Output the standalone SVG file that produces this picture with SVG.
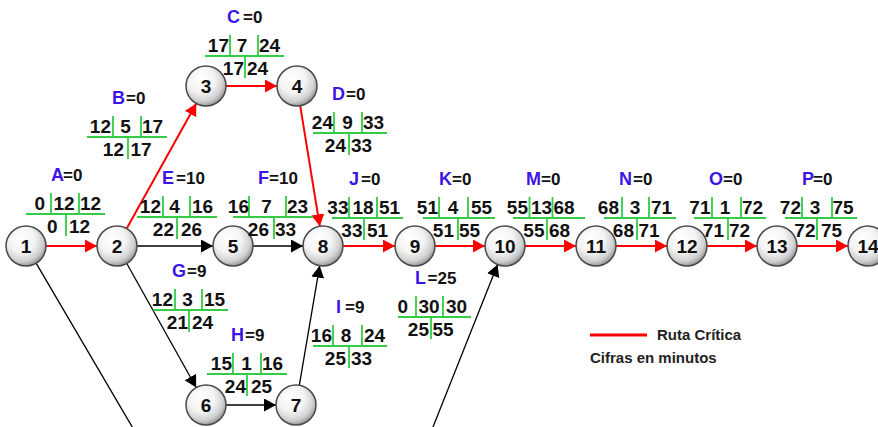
<svg xmlns="http://www.w3.org/2000/svg" width="878" height="427" viewBox="0 0 878 427">
<defs>
<radialGradient id="g" cx="0.42" cy="0.38" r="0.65" fx="0.36" fy="0.3">
<stop offset="0" stop-color="#ffffff"/>
<stop offset="0.5" stop-color="#f4f4f4"/>
<stop offset="0.8" stop-color="#d0d0d0"/>
<stop offset="1" stop-color="#8c8c8c"/>
</radialGradient>
<marker id="ar" markerUnits="userSpaceOnUse" markerWidth="13" markerHeight="14" refX="12" refY="6.5" orient="auto"><path d="M0,0L12,6.5L0,13z" fill="#ff0000"/></marker>
<marker id="ab" markerUnits="userSpaceOnUse" markerWidth="13" markerHeight="14" refX="12" refY="6.5" orient="auto"><path d="M0,0L12,6.5L0,13z" fill="#000000"/></marker>
<style>
.n circle{fill:url(#g);stroke:#4a4a4a;stroke-width:1.5}
.n text{font-family:"Liberation Sans",Arial,sans-serif;font-weight:bold;font-size:19px;text-anchor:middle;fill:#111}
.a text{font-family:"Liberation Sans",Arial,sans-serif;font-weight:bold;font-size:19px;fill:#111}
.a .e{text-anchor:end}
.a .m{text-anchor:middle}
.a .s{text-anchor:start}
.a .lb{font-size:18px;fill:#3c14e6}
.a .eq{font-size:17px}
.gl{stroke:#33cc44;stroke-width:1.8;fill:none}
.red{stroke:#ff0000;stroke-width:2;fill:none;marker-end:url(#ar)}
.blk{stroke:#000;stroke-width:1.3;fill:none;marker-end:url(#ab)}
.plain{stroke:#000;stroke-width:1.3;fill:none}
.lg{font-family:"Liberation Sans",Arial,sans-serif;font-weight:bold;font-size:15px;fill:#222}
</style>
</defs>
<rect width="878" height="427" fill="#fff"/>

<g id="connectors">
<path class="red" d="M46 246H97"/>
<path class="red" d="M126.7 228.5L196.3 103.5"/>
<path class="red" d="M226 86H277"/>
<path class="red" d="M300.2 105.7L319.8 226.3"/>
<path class="blk" d="M137 246H213"/>
<path class="blk" d="M253 246H303"/>
<path class="red" d="M343 246H395"/>
<path class="red" d="M435 246H485"/>
<path class="red" d="M525 246H576"/>
<path class="red" d="M616 246H667"/>
<path class="red" d="M707 246H757"/>
<path class="red" d="M797 246H848"/>
<path class="blk" d="M126.8 263.5L196.2 387.5"/>
<path class="blk" d="M226 405H276"/>
<path class="blk" d="M299.3 385.3L319.7 265.7"/>
<path class="plain" d="M36.1 263.2L134 430"/>
<path class="blk" d="M431 432L497.6 264.6"/>
</g>

<g id="node-1" class="n"><circle cx="26" cy="246" r="20"/><text x="26" y="253">1</text></g>
<g id="node-2" class="n"><circle cx="117" cy="246" r="20"/><text x="117" y="253">2</text></g>
<g id="node-3" class="n"><circle cx="206" cy="86" r="20"/><text x="206" y="93">3</text></g>
<g id="node-4" class="n"><circle cx="297" cy="86" r="20"/><text x="297" y="93">4</text></g>
<g id="node-5" class="n"><circle cx="233" cy="246" r="20"/><text x="233" y="253">5</text></g>
<g id="node-6" class="n"><circle cx="206" cy="405" r="20"/><text x="206" y="412">6</text></g>
<g id="node-7" class="n"><circle cx="296" cy="405" r="20"/><text x="296" y="412">7</text></g>
<g id="node-8" class="n"><circle cx="323" cy="246" r="20"/><text x="323" y="253">8</text></g>
<g id="node-9" class="n"><circle cx="415" cy="246" r="20"/><text x="415" y="253">9</text></g>
<g id="node-10" class="n"><circle cx="505" cy="246" r="20"/><text x="505" y="253">10</text></g>
<g id="node-11" class="n"><circle cx="596" cy="246" r="20"/><text x="596" y="253">11</text></g>
<g id="node-12" class="n"><circle cx="687" cy="246" r="20"/><text x="687" y="253">12</text></g>
<g id="node-13" class="n"><circle cx="777" cy="246" r="20"/><text x="777" y="253">13</text></g>
<g id="node-14" class="n"><circle cx="868" cy="246" r="20"/><text x="868" y="253">14</text></g>

<g id="act-A" class="a">
<text class="lb" x="51" y="181">A</text><text class="eq" x="63" y="181">=0</text>
<path class="gl" d="M26 214H105M51 193V214M79 193V214M66 214V236"/>
<text class="e" x="45" y="210">0</text><text class="m" x="64" y="210">12</text><text class="s" x="80" y="210">12</text>
<text class="e" x="57.5" y="233">0</text><text class="s" x="69" y="233">12</text>
</g>
<g id="act-B" class="a">
<text class="lb" x="112" y="104">B</text><text class="eq" x="126" y="104">=0</text>
<path class="gl" d="M87 137H167M113 116V137M141 116V137M128 137V159"/>
<text class="e" x="111" y="133">12</text><text class="m" x="125.5" y="133">5</text><text class="s" x="142" y="133">17</text>
<text class="e" x="124" y="156">12</text><text class="s" x="130.5" y="156">17</text>
</g>
<g id="act-C" class="a">
<text class="lb" x="227" y="23">C</text><text class="eq" x="243" y="23">=0</text>
<path class="gl" d="M205 56H284M230 35V56M258 35V56M245 56V78"/>
<text class="e" x="229" y="52">17</text><text class="m" x="242" y="52">7</text><text class="s" x="259" y="52">24</text>
<text class="e" x="244" y="75">17</text><text class="s" x="247" y="75">24</text>
</g>
<g id="act-D" class="a">
<text class="lb" x="332" y="100">D</text><text class="eq" x="346" y="100">=0</text>
<path class="gl" d="M313 133H387M334 112V133M362 112V133M349 133V155"/>
<text class="e" x="333" y="129">24</text><text class="m" x="347.5" y="129">9</text><text class="s" x="363" y="129">33</text>
<text class="e" x="346" y="152">24</text><text class="s" x="351" y="152">33</text>
</g>
<g id="act-E" class="a">
<text class="lb" x="162" y="184">E</text><text class="eq" x="176" y="184">=10</text>
<path class="gl" d="M137 217H217M163 196V217M190 196V217M177 217V239"/>
<text class="e" x="161" y="213">12</text><text class="m" x="174.5" y="213">4</text><text class="s" x="192" y="213">16</text>
<text class="e" x="174" y="236">22</text><text class="s" x="181" y="236">26</text>
</g>
<g id="act-F" class="a">
<text class="lb" x="258" y="184">F</text><text class="eq" x="269" y="184">=10</text>
<path class="gl" d="M233 217H313M249 196V217M286 196V217M274 217V239"/>
<text class="e" x="249" y="213">16</text><text class="m" x="266.5" y="213">7</text><text class="s" x="287" y="213">23</text>
<text class="e" x="269" y="236">26</text><text class="s" x="275" y="236">33</text>
</g>
<g id="act-G" class="a">
<text class="lb" x="172" y="277">G</text><text class="eq" x="187" y="277">=9</text>
<path class="gl" d="M153 310H228M175 289V310M202 289V310M189 310V332"/>
<text class="e" x="173" y="306">12</text><text class="m" x="187.5" y="306">3</text><text class="s" x="204" y="306">15</text>
<text class="e" x="188" y="329">21</text><text class="s" x="192" y="329">24</text>
</g>
<g id="act-H" class="a">
<text class="lb" x="231" y="341">H</text><text class="eq" x="245" y="341">=9</text>
<path class="gl" d="M207 374H287M233 353V374M261 353V374M247 374V396"/>
<text class="e" x="232" y="370">15</text><text class="m" x="246.5" y="370">1</text><text class="s" x="262" y="370">16</text>
<text class="e" x="246" y="393">24</text><text class="s" x="251" y="393">25</text>
</g>
<g id="act-I" class="a">
<text class="lb" x="336" y="313">I</text><text class="eq" x="345" y="313">=9</text>
<path class="gl" d="M313 346H387M333 325V346M362 325V346M349 346V368"/>
<text class="e" x="332" y="342">16</text><text class="m" x="346" y="342">8</text><text class="s" x="364" y="342">24</text>
<text class="e" x="346" y="365">25</text><text class="s" x="351" y="365">33</text>
</g>
<g id="act-J" class="a">
<text class="lb" x="349" y="185">J</text><text class="eq" x="361" y="185">=0</text>
<path class="gl" d="M332 218H403M349 197V218M377 197V218M364 218V240"/>
<text class="e" x="348.5" y="214">33</text><text class="m" x="363" y="214">18</text><text class="s" x="379" y="214">51</text>
<text class="e" x="362.5" y="237">33</text><text class="s" x="367" y="237">51</text>
</g>
<g id="act-K" class="a">
<text class="lb" x="439" y="185">K</text><text class="eq" x="452" y="185">=0</text>
<path class="gl" d="M423 218H495M439 197V218M468 197V218M458 218V240"/>
<text class="e" x="438" y="214">51</text><text class="m" x="453" y="214">4</text><text class="s" x="471" y="214">55</text>
<text class="e" x="454" y="237">51</text><text class="s" x="459" y="237">55</text>
</g>
<g id="act-L" class="a">
<text class="lb" x="415" y="284">L</text><text class="eq" x="427.5" y="284">=25</text>
<path class="gl" d="M398 317H471M416 296V317M443 296V317M431 317V339"/>
<text class="e" x="408" y="313">0</text><text class="m" x="429" y="313">30</text><text class="s" x="446" y="313">30</text>
<text class="e" x="429" y="336">25</text><text class="s" x="432.5" y="336">55</text>
</g>
<g id="act-M" class="a">
<text class="lb" x="526" y="185">M</text><text class="eq" x="541" y="185">=0</text>
<path class="gl" d="M513 218H585M529.5 197V218M552.5 197V218M547 218V240"/>
<text class="e" x="528" y="214">55</text><text class="m" x="541.5" y="214">13</text><text class="s" x="553.5" y="214">68</text>
<text class="e" x="544.5" y="237">55</text><text class="s" x="549" y="237">68</text>
</g>
<g id="act-N" class="a">
<text class="lb" x="619" y="185">N</text><text class="eq" x="633" y="185">=0</text>
<path class="gl" d="M604 218H676M622 197V218M649 197V218M637 218V240"/>
<text class="e" x="619" y="214">68</text><text class="m" x="635" y="214">3</text><text class="s" x="651" y="214">71</text>
<text class="e" x="634" y="237">68</text><text class="s" x="638.5" y="237">71</text>
</g>
<g id="act-O" class="a">
<text class="lb" x="709" y="185">O</text><text class="eq" x="723" y="185">=0</text>
<path class="gl" d="M694 218H766M712 197V218M741 197V218M728 218V240"/>
<text class="e" x="710.5" y="214">71</text><text class="m" x="725" y="214">1</text><text class="s" x="742" y="214">72</text>
<text class="e" x="724" y="237">71</text><text class="s" x="729" y="237">72</text>
</g>
<g id="act-P" class="a">
<text class="lb" x="802" y="185">P</text><text class="eq" x="813" y="185">=0</text>
<path class="gl" d="M785 218H857M802 197V218M832 197V218M817 218V240"/>
<text class="e" x="801" y="214">72</text><text class="m" x="815" y="214">3</text><text class="s" x="832.5" y="214">75</text>
<text class="e" x="815.5" y="237">72</text><text class="s" x="821" y="237">75</text>
</g>

<g id="legend">
<path d="M590 335H647" stroke="#ff0000" stroke-width="3"/>
<text class="lg" x="657" y="340">Ruta Crítica</text>
<text class="lg" x="590" y="363">Cifras en minutos</text>
</g>
</svg>
